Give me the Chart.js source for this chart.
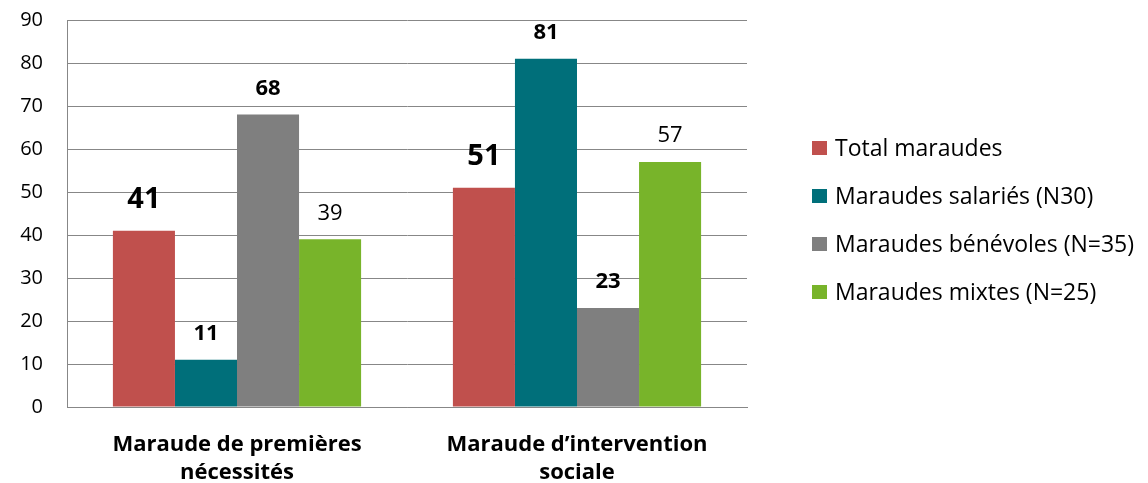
<!DOCTYPE html>
<html>
<head>
<meta charset="utf-8">
<script src="https://cdn.jsdelivr.net/npm/chart.js@4.4.1/dist/chart.umd.min.js"></script>
<style>
  html, body { margin: 0; padding: 0; background: #fff; }
  #wrap { width: 1148px; height: 483px; }
</style>
</head>
<body>
<div id="wrap"><canvas id="chart" width="1148" height="483"></canvas></div>
<script>
// Données du graphique
const categories = [['Maraude de premières', 'nécessités'], ['Maraude d\u2019intervention', 'sociale']];
const seriesNames = ['Total maraudes', 'Maraudes salariés (N30)', 'Maraudes bénévoles (N=35)', 'Maraudes mixtes (N=25)'];
const totalMaraudes = [41, 51];
const maraudesSalaries = [11, 81];
const maraudesBenevoles = [68, 23];
const maraudesMixtes = [39, 57];
const yTicks = [0, 10, 20, 30, 40, 50, 60, 70, 80, 90];

// Styles
const colors = ['#C0504D', '#006F7A', '#7F7F7F', '#78B42A'];
const FONT = '"Open Sans", "Noto Sans", sans-serif';
const labelFonts = [
  { size: 29, weight: 'bold', offset: 31 },
  { size: 22, weight: 'bold', offset: 26 },
  { size: 22, weight: 'bold', offset: 26 },
  { size: 22, weight: 'normal', offset: 26 }
];

// Étiquettes de valeurs au-dessus des barres
const valueLabels = {
  id: 'valueLabels',
  afterDatasetsDraw(chart) {
    const ctx = chart.ctx;
    chart.data.datasets.forEach((ds, i) => {
      const meta = chart.getDatasetMeta(i);
      const st = labelFonts[i];
      ctx.save();
      ctx.font = `${st.weight} ${st.size}px ${FONT}`;
      ctx.fillStyle = '#000';
      ctx.textAlign = 'center';
      ctx.textBaseline = 'middle';
      meta.data.forEach((bar, j) => {
        ctx.fillText(String(ds.data[j]), bar.x, bar.y - st.offset);
      });
      ctx.restore();
    });
  }
};

// Légende dessinée à droite
const sideLegend = {
  id: 'sideLegend',
  afterDraw(chart) {
    const ctx = chart.ctx;
    const area = chart.chartArea;
    const x0 = area.right + 65;
    const y0 = area.top + 128;
    ctx.save();
    ctx.font = `23px ${FONT}`;
    ctx.textBaseline = 'middle';
    chart.data.datasets.forEach((ds, i) => {
      const y = y0 + i * 48;
      ctx.fillStyle = ds.backgroundColor;
      ctx.fillRect(x0, y - 7, 15, 14);
      ctx.fillStyle = '#000';
      ctx.fillText(ds.label, x0 + 23, y + 1);
    });
    ctx.restore();
  }
};

const seriesData = [totalMaraudes, maraudesSalaries, maraudesBenevoles, maraudesMixtes];

new Chart(document.getElementById('chart'), {
  type: 'bar',
  data: {
    labels: categories,
    datasets: seriesData.map((d, i) => ({
      label: seriesNames[i],
      data: d,
      backgroundColor: colors[i],
      borderWidth: 0,
      categoryPercentage: 0.73,
      barPercentage: 1
    }))
  },
  options: {
    responsive: false,
    animation: false,
    layout: { padding: { top: 20, right: 401, left: 0, bottom: 0 } },
    plugins: {
      legend: { display: false },
      tooltip: { enabled: false }
    },
    scales: {
      x: {
        grid: { display: false, drawTicks: false },
        border: { color: '#878787', width: 1 },
        ticks: {
          color: '#000',
          padding: 24,
          maxRotation: 0,
          font: { family: FONT, size: 22, weight: 'bold', lineHeight: 1.25 }
        },
        afterFit(scale) {
          scale.height = 76;
          scale.paddingLeft = 0;
          scale.paddingRight = 0;
        }
      },
      y: {
        min: 0,
        max: 90,
        afterBuildTicks(scale) { scale.ticks = yTicks.map(v => ({ value: v })); },
        grid: { color: '#878787', lineWidth: 1, drawTicks: false },
        border: { color: '#878787', width: 1 },
        ticks: {
          color: '#000',
          padding: 24,
          font: { family: FONT, size: 20 }
        },
        afterFit(scale) {
          scale.width = 67;
          scale.paddingTop = 0;
          scale.paddingBottom = 0;
        }
      }
    }
  },
  plugins: [valueLabels, sideLegend]
});
</script>
</body>
</html>
